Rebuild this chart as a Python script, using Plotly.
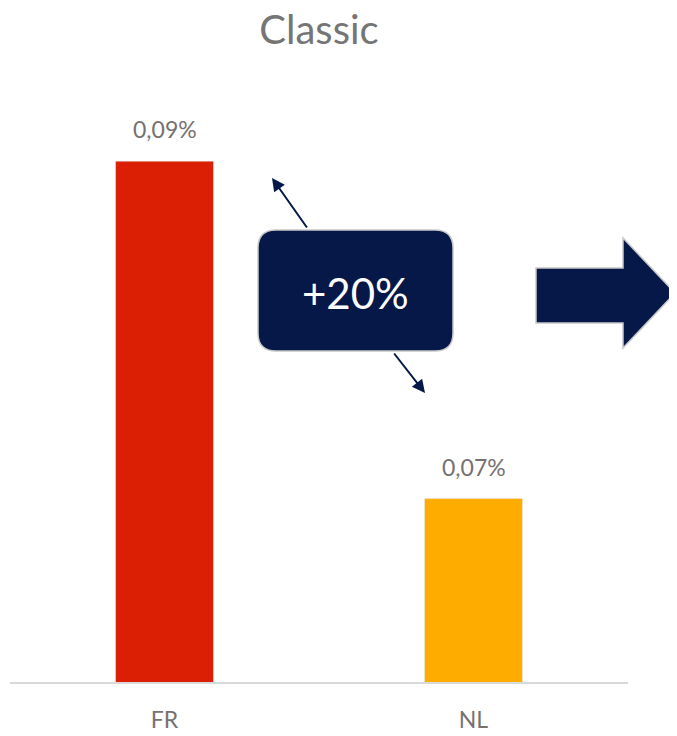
import plotly.graph_objects as go

categories = ["FR", "NL"]
values = [0.0894, 0.0745]  # percent
bar_colors = ["#DA1F05", "#FFAC00"]
title_text = "Classic"
delta_label = "+20%"

OFF = 8  # page body margin
W, H = 677 - OFF, 736 - OFF
L, R, T, B = 2, 49, 92, 54
PW, PH = W - L - R, H - T - B
FONT = "Lato, Open Sans, sans-serif"


def px(x):
    return (x - OFF - L) / PW


def py(y):
    return (H - B - (y - OFF)) / PH


fig = go.Figure()
fig.add_trace(go.Bar(
    x=categories, y=values, marker_color=bar_colors, width=0.317,
    hoverinfo="skip",
))

annotations = []
for c, v in zip(categories, values):
    annotations.append(dict(
        x=c, y=v, xref="x", yref="y", text=f"{v:.2f}".replace(".", ",") + "%",
        showarrow=False, yanchor="bottom", xanchor="center", yshift=16,
        font=dict(family=FONT, size=23, color="#767171"),
    ))

# double-headed arrows (from box edges outward)
annotations.append(dict(
    x=px(272), y=py(178), xref="paper", yref="paper",
    ax=308 - 272, ay=229 - 178, axref="pixel", ayref="pixel",
    text="", showarrow=True, arrowhead=2, arrowsize=1.3, arrowwidth=2,
    arrowcolor="#061848",
))
annotations.append(dict(
    x=px(425), y=py(393), xref="paper", yref="paper",
    ax=393 - 425, ay=352 - 393, axref="pixel", ayref="pixel",
    text="", showarrow=True, arrowhead=2, arrowsize=1.3, arrowwidth=2,
    arrowcolor="#061848",
))
annotations.append(dict(
    x=px(355), y=py(293), xref="paper", yref="paper", text=delta_label,
    xanchor="center", yanchor="middle",
    showarrow=False, font=dict(family=FONT, size=42, color="white"),
))


def rounded_rect(x0, y0, x1, y1, r):
    X0, X1 = px(x0), px(x1)
    Y0, Y1 = py(y0), py(y1)  # Y0 top
    rx, ry = r / PW, r / PH
    return (f"M {X0+rx},{Y0} L {X1-rx},{Y0} Q {X1},{Y0} {X1},{Y0-ry} "
            f"L {X1},{Y1+ry} Q {X1},{Y1} {X1-rx},{Y1} L {X0+rx},{Y1} "
            f"Q {X0},{Y1} {X0},{Y1+ry} L {X0},{Y0-ry} Q {X0},{Y0} {X0+rx},{Y0} Z")


shapes = [
    dict(type="path", xref="paper", yref="paper",
         path=rounded_rect(258, 230, 453, 351, 18),
         fillcolor="#061848", line=dict(color="#C8C8C8", width=1.5), layer="above"),
]
pts = [(536, 268), (623, 268), (623, 238), (675, 293), (623, 348), (623, 323), (536, 323)]
path = "M " + " L ".join(f"{px(a)},{py(b)}" for a, b in pts) + " Z"
shapes.append(dict(type="path", xref="paper", yref="paper", path=path,
                   fillcolor="#061848", line=dict(color="#C8C8C8", width=1.5), layer="above"))

fig.update_layout(
    width=W, height=H,
    margin=dict(l=L, r=R, t=T, b=B, autoexpand=False),
    paper_bgcolor="white", plot_bgcolor="white",
    title=dict(text=title_text, x=0.5, xref="paper", y=1 - (30 - OFF) / H, yanchor="middle",
               font=dict(family=FONT, size=40, color="#757575")),
    showlegend=False,
    bargap=0.68,
    xaxis=dict(showline=True, linecolor="#D9D9D9", linewidth=2, ticks="",
               tickfont=dict(family=FONT, size=23, color="#767171"),
               ticklabelstandoff=16, showgrid=False, fixedrange=True, automargin=False),
    yaxis=dict(range=[0.0664, 0.0921], visible=False, showgrid=False, zeroline=False,
               automargin=False),
    annotations=annotations,
    shapes=shapes,
)

fig.write_html("out.html")
